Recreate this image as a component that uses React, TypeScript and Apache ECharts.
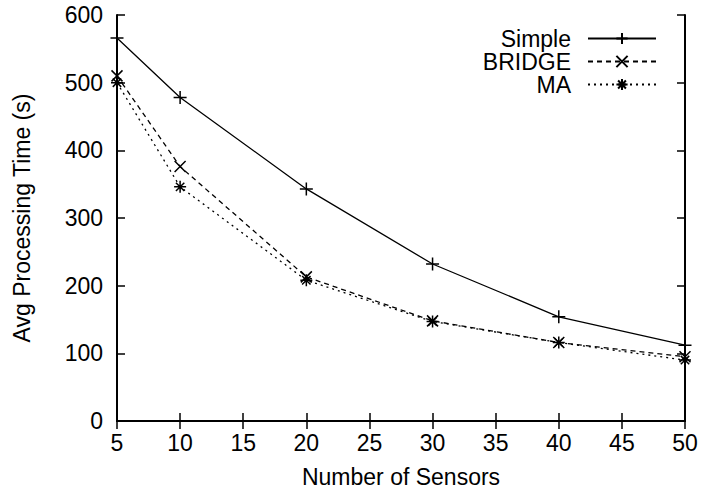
import React, { useEffect, useRef } from "react";
import * as echarts from "echarts";

// Number of sensors on the x axis
const sensors = [5, 10, 20, 30, 40, 50];

// Average processing time (s) per method
const simpleTimes = [566, 478, 343, 232, 154, 112];
const bridgeTimes = [510, 376, 213, 148, 116, 95];
const maTimes = [500, 346, 208, 147, 116, 90];

const yTicks = [0, 100, 200, 300, 400, 500, 600];
const xTicks = [5, 10, 15, 20, 25, 30, 35, 40, 45, 50];

const FONT = "'Liberation Sans', Arial, Helvetica, sans-serif";
const FS = 23;

const PLUS = "path://M0,5L10,5M5,0L5,10";
const CROSS = "path://M0,0L10,10M10,0L0,10";
const STAR = "path://M0,5L10,5M5,0L5,10M1.5,1.5L8.5,8.5M8.5,1.5L1.5,8.5";

function pairs(ys: number[]) {
  return sensors.map((x, i) => [x, ys[i]]);
}

export default function App() {
  const ref = useRef<HTMLDivElement>(null);

  useEffect(() => {
    if (!ref.current) return;
    const chart = echarts.init(ref.current, undefined, { renderer: "svg" });

    const frameLine = { show: true, lineStyle: { color: "#000", width: 2 } };
    const innerTick = { show: true, inside: true, length: 8, lineStyle: { color: "#000", width: 1.5 } };

    const mkSeries = (name: string, data: number[], symbol: string, dash: any, size: number) => ({
      name,
      type: "line",
      data: pairs(data),
      symbol,
      symbolSize: size,
      symbolKeepAspect: true,
      showSymbol: true,
      lineStyle: { color: "#000", width: 1.3, type: dash },
      itemStyle: { color: "rgba(0,0,0,0)", borderColor: "#000", borderWidth: 1.5 },
      emphasis: { disabled: true },
      xAxisIndex: 0,
      yAxisIndex: 0,
      z: 3,
    });

    chart.setOption({
      animation: false,
      textStyle: { fontFamily: FONT },
      grid: { left: 117, right: 16, top: 15, bottom: 72, containLabel: false },
      legend: {
        orient: "vertical",
        right: 39,
        top: 22,
        align: "right",
        itemWidth: 68,
        itemHeight: 14,
        itemGap: 0,
        selectedMode: false,
        textStyle: { fontFamily: FONT, fontSize: FS, color: "#000", lineHeight: 22.5, padding: [0, 12, 0, 0] },
        data: ["Simple", "BRIDGE", "MA"],
      },
      xAxis: [
        {
          type: "value",
          position: "bottom",
          min: 5,
          max: 50,
          interval: 5,
          name: "Number of Sensors",
          nameLocation: "middle",
          nameGap: 44,
          nameTextStyle: { fontFamily: FONT, fontSize: FS, color: "#000" },
          axisLine: frameLine,
          axisTick: innerTick,
          splitLine: { show: false },
          axisLabel: {
            fontFamily: FONT,
            fontSize: FS,
            color: "#000",
            margin: 10,
            customValues: xTicks,
          },
        },
        {
          type: "value",
          position: "top",
          min: 5,
          max: 50,
          interval: 5,
          axisLine: frameLine,
          axisTick: innerTick,
          splitLine: { show: false },
          axisLabel: { show: false },
        },
      ],
      yAxis: [
        {
          type: "value",
          position: "left",
          min: 0,
          max: 600,
          interval: 100,
          name: "Avg Processing Time (s)",
          nameLocation: "middle",
          nameGap: 84,
          nameTextStyle: { fontFamily: FONT, fontSize: FS, color: "#000" },
          axisLine: frameLine,
          axisTick: innerTick,
          splitLine: { show: false },
          axisLabel: {
            fontFamily: FONT,
            fontSize: FS,
            color: "#000",
            margin: 14,
            customValues: yTicks,
          },
        },
        {
          type: "value",
          position: "right",
          min: 0,
          max: 600,
          interval: 100,
          axisLine: frameLine,
          axisTick: innerTick,
          splitLine: { show: false },
          axisLabel: { show: false },
        },
      ],
      series: [
        mkSeries("Simple", simpleTimes, PLUS, "solid", 13),
        mkSeries("BRIDGE", bridgeTimes, CROSS, [5, 4], 11),
        mkSeries("MA", maTimes, STAR, [2, 4], 12),
      ],
    });

    return () => chart.dispose();
  }, []);

  return <div ref={ref} style={{ width: 701, height: 493, position: "absolute", left: 0, top: 0 }} />;
}
